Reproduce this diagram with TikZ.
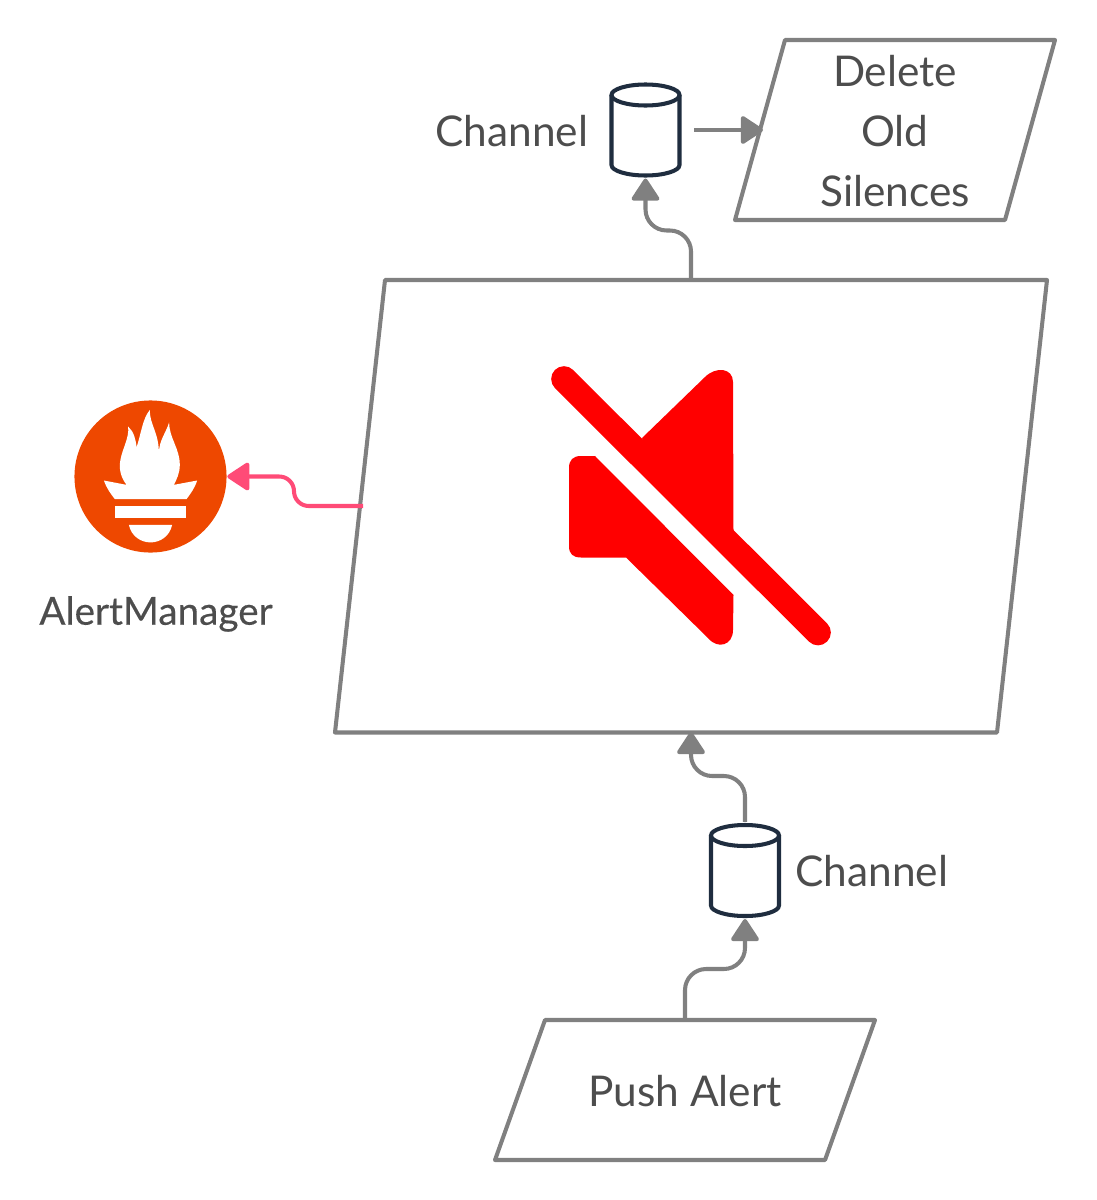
\documentclass[tikz,border=0pt]{standalone}
\usepackage{fontspec}
\setmainfont{Lato}
\newfontfamily\logofont[FakeBold=0.35]{Lato}
\usetikzlibrary{arrows.meta}
\definecolor{linegray}{HTML}{808080}
\definecolor{textgray}{HTML}{4D4D4D}
\definecolor{drumblue}{HTML}{1F2D3F}
\definecolor{linkpink}{HTML}{FF4B77}
\definecolor{logoorange}{HTML}{EE4800}
\tikzset{
  procbox/.style={draw=linegray,line width=1.15pt,line join=round},
  flow/.style={draw=linegray,line width=1.15pt,rounded corners=6pt,-{Triangle[round,length=6.8pt,width=8.6pt]}},
  alarmflow/.style={flow,draw=linkpink,rounded corners=4.2pt},
  label/.style={font=\fontsize{12.05}{17.07}\selectfont,text=textgray,align=center},
  drum/.style={rectangle,minimum width=0.68cm,minimum height=0.9cm,inner sep=0pt,outer sep=1pt},
}
\begin{document}
\begin{tikzpicture}[x=0.01cm,y=-0.01cm]
\useasboundingbox (0,0) rectangle (1096,1200);
% boxes
\draw[procbox] (785,40) -- (1055,40) -- (1005,220) -- (735,220) -- cycle;
\draw[procbox] (385,280) -- (1047,280) -- (997,732.5) -- (335,732.5) -- cycle;
\draw[procbox] (545,1020) -- (875,1020) -- (825,1160) -- (495,1160) -- cycle;
\coordinate (deleteIn) at (763,130);
\coordinate (muteTop) at (691,280);
\coordinate (muteBottom) at (691,732);
\coordinate (muteLeft) at (363,506);
\coordinate (pushTop) at (685,1020);
% channels
\node[drum] (chanTop) at (645.5,130) {};
\node[drum] (chanBottom) at (745,870.5) {};
\foreach \c/\xc/\yc in {chanTop/645.5/130,chanBottom/745/870.5}{
  \draw[drumblue,line width=1.15pt] (\xc-34,\yc-35) -- (\xc-34,\yc+35)
    arc[start angle=180,end angle=360,x radius=34,y radius=-10.5] -- (\xc+34,\yc-35);
  \draw[drumblue,line width=1.15pt] (\xc,\yc-35) ellipse[x radius=34,y radius=10.5];
}
% logo
\node[circle,fill=logoorange,minimum size=1.52cm,inner sep=0pt] (logo) at (150.5,476.5) {};
\begin{scope}[shift={(60,390)},x=0.00333cm,y=-0.00333cm]
\fill[white] (200,285) .. controls (182,262) and (176,235) .. (182,208)
  .. controls (188,175) and (208,145) .. (205,110)
  .. controls (222,125) and (228,150) .. (230,172)
  .. controls (243,135) and (248,85) .. (270,60)
  .. controls (268,100) and (298,130) .. (297,190)
  .. controls (298,150) and (318,130) .. (328,97)
  .. controls (328,145) and (360,175) .. (360,225)
  .. controls (360,250) and (350,270) .. (342,285)
  -- (412,272) .. controls (405,295) and (392,312) .. (380,328)
  -- (165,328) .. controls (152,312) and (140,295) .. (132,272) -- cycle;
\fill[white] (165,348) rectangle (380,386);
\fill[white] (207,405) -- (337,405) .. controls (330,440) and (300,458) .. (272,458)
  .. controls (244,458) and (214,440) .. (207,405) -- cycle;
\end{scope}
% mute sign
\fill[red] (642,438) -- (705,377) .. controls (716,366) and (733,368) .. (733,382) -- (733.5,532)
  -- (720,530) -- (650,460) -- cycle;
\fill[red] (595,456) -- (581,456) .. controls (573,456) and (569,460) .. (569,468) -- (569,546)
  .. controls (569,554) and (573,557.5) .. (581,557.5) -- (626,557.5) -- (708,638)
  .. controls (718,650) and (733,645) .. (733,630) -- (733.5,595) -- cycle;
\draw[red,line width=7.3pt,line cap=round] (564,379) -- (818,632.5);
% connectors
\draw[flow] (muteTop) -- (691,230.5) -| (chanTop.south);
\draw[flow,rounded corners=0pt] (chanTop.east) ++(11,0) -- (deleteIn);
\draw[flow] (chanBottom.north) -- (745,776) -| (muteBottom);
\draw[flow] (pushTop) -- (685,969) -| (chanBottom.south);
\draw[alarmflow] (muteLeft) -| (294,476.5) -- (logo.east);
% labels
\node[label] (deleteText) at (895,131) {Delete\\Old\\Silences};
\node[label] (chanTopText) at (512,131) {Channel};
\node[label] (chanBottomText) at (872,871) {Channel};
\node[label,font=\logofont\fontsize{11}{13}\selectfont] (logoText) at (156,614) {AlertManager};
\node[label] (pushText) at (685,1091) {Push Alert};
\end{tikzpicture}
\end{document}
